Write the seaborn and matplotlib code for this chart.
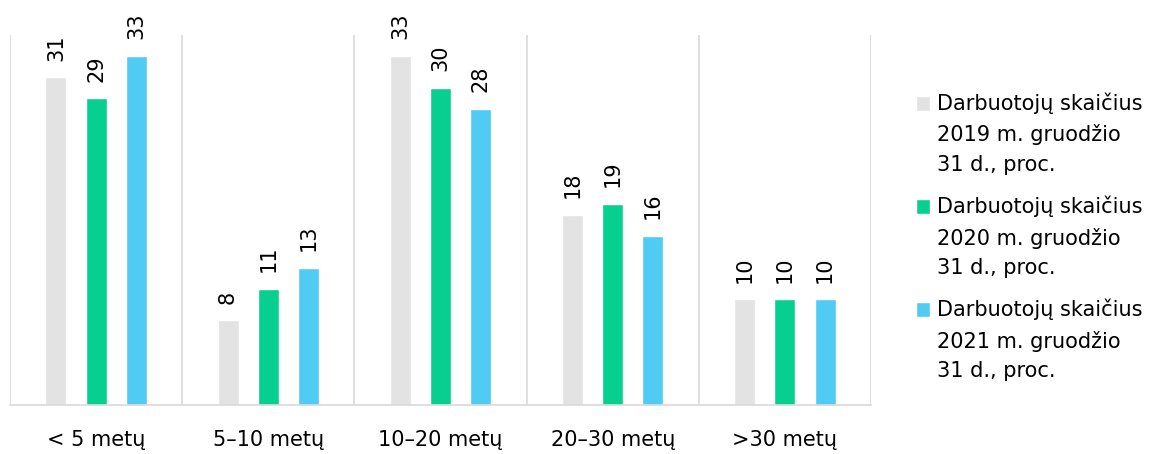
import matplotlib.pyplot as plt
import matplotlib.patches as mpatches
from matplotlib.legend_handler import HandlerPatch
import seaborn as sns
import pandas as pd

categories = ['< 5 metų', '5–10 metų', '10–20 metų', '20–30 metų', '>30 metų']
series = ['Darbuotojų skaičius\n2019 m. gruodžio\n31 d., proc.',
          'Darbuotojų skaičius\n2020 m. gruodžio\n31 d., proc.',
          'Darbuotojų skaičius\n2021 m. gruodžio\n31 d., proc.']
v2019 = [31, 8, 33, 18, 10]
v2020 = [29, 11, 30, 19, 10]
v2021 = [33, 13, 28, 16, 10]
colors = ['#e3e3e3', '#06cf8f', '#50cbf3']

rows = []
for s, vals in zip(series, [v2019, v2020, v2021]):
    for c, v in zip(categories, vals):
        rows.append({'cat': c, 'series': s, 'value': v})
df = pd.DataFrame(rows)

sns.set_style('white')
plt.rcParams['font.family'] = ['DejaVu Sans']
plt.rcParams['text.color'] = 'black'
plt.rcParams['xtick.color'] = 'black'

fig = plt.figure(figsize=(11.73, 4.54), dpi=100)
ax = fig.add_axes([10 / 1173, 1 - 405 / 454, 861 / 1173, 370 / 454])

sns.barplot(data=df, x='cat', y='value', hue='series', palette=colors,
            saturation=1, width=0.7, gap=0.48, ax=ax, legend=True)

ax.set_ylim(0, 35)
ax.set_xlim(-0.5, 4.5)
for b in [-0.5, 0.5, 1.5, 2.5, 3.5, 4.5]:
    ax.axvline(b, color='#d9d9d9', lw=1.2, zorder=0)

for cont in ax.containers:
    ax.bar_label(cont, rotation=90, padding=12, fontsize=15, color='black')

ax.set_yticks([])
ax.set_xlabel('')
ax.set_ylabel('')
ax.tick_params(axis='x', labelsize=15, length=0, pad=18)
for side in ['top', 'right', 'left']:
    ax.spines[side].set_visible(False)
ax.spines['bottom'].set_color('#d9d9d9')
ax.spines['bottom'].set_linewidth(1.2)


def square(legend, orig_handle, xdescent, ydescent, width, height, fontsize):
    s = 0.7 * fontsize
    return mpatches.Rectangle((-xdescent, -ydescent), s, s)


leg = ax.legend(loc='upper left', bbox_to_anchor=(1.052, 0.844), frameon=False,
                fontsize=15, handlelength=0.7, handleheight=0.95,
                handletextpad=0.3, labelspacing=1.0, borderpad=0, borderaxespad=0,
                handler_map={mpatches.Rectangle: HandlerPatch(patch_func=square)})
for t in leg.get_texts():
    t.set_linespacing(1.6)
# square marker next to the first line of each label
for col in leg._legend_handle_box.get_children():
    for hp in col.get_children():
        hp.align = 'top'

fig.savefig('out.png', dpi=100)
